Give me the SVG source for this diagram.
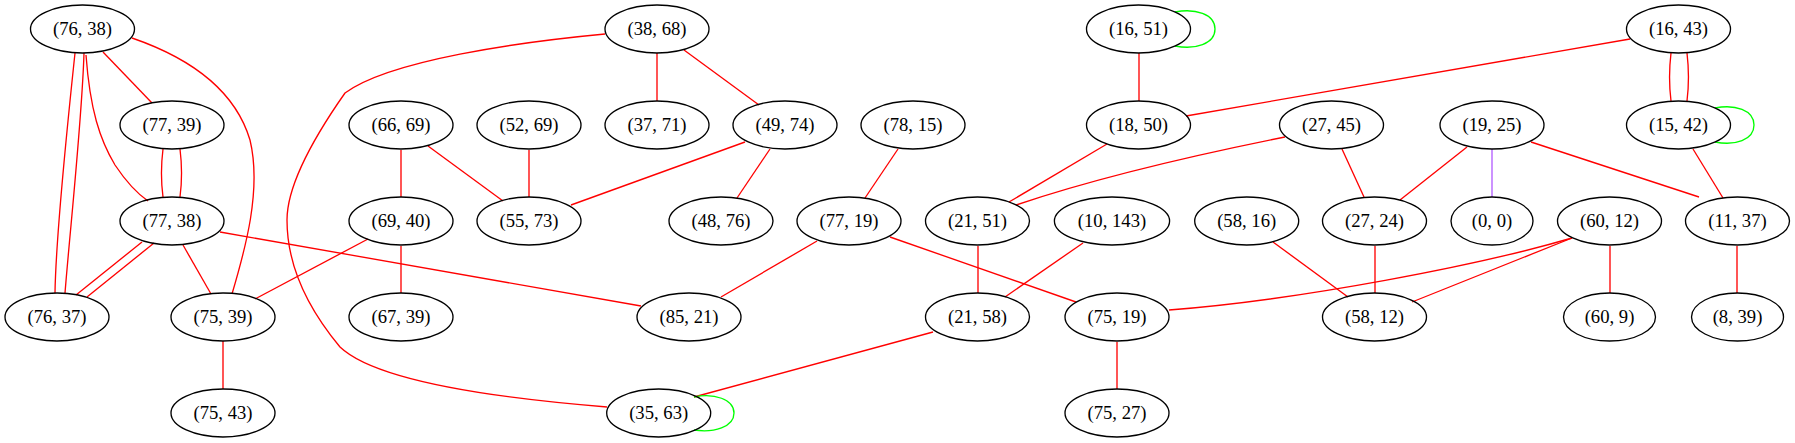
<svg xmlns="http://www.w3.org/2000/svg" width="1795" height="443" viewBox="0 0 1795 443">
<style>
.n ellipse{fill:none;stroke:#000;stroke-width:1.33}
.n text{font-family:"Liberation Serif","Times New Roman",serif;font-size:18.67px;text-anchor:middle;fill:#000}
#edges path{fill:none;stroke-width:1.33}
.r{stroke:#ff0000}
.g{stroke:#00ff00}
.p{stroke:#b35cff}
</style>
<rect width="1795" height="443" fill="#fff"/>
<g id="edges">
<path class="r" d="M75,53 C68,120 56,230 55,293"/>
<path class="r" d="M84,53 C82,120 70,230 65,293"/>
<path class="r" d="M86,55 C90,110 100,140 115,165 C125,180 135,192 148,201"/>
<path class="r" d="M103,52 L152,103"/>
<path class="r" d="M132,38 C190,58 235,90 250,140 C262,190 245,250 232,294"/>
<path class="r" d="M163,149 C161,165 161,182 163,197"/>
<path class="r" d="M180,149 C182,165 182,182 180,197"/>
<path class="r" d="M142,242 L76,295"/>
<path class="r" d="M154,243 L87,297"/>
<path class="r" d="M183,245 L211,294"/>
<path class="r" d="M220,232 L641,306"/>
<path class="r" d="M368,239 L255,299"/>
<path class="r" d="M223,341 L223,389"/>
<path class="r" d="M401,150 L401,197"/>
<path class="r" d="M428,146 L503,201"/>
<path class="r" d="M529,150 L529,197"/>
<path class="r" d="M745,142 L571,205"/>
<path class="r" d="M401,246 L401,293"/>
<path class="r" d="M605,34 C520,42 390,60 345,93 C305,150 287,190 287,220 C287,262 305,305 340,347 C380,385 520,400 607,407"/>
<path class="r" d="M657,53 L657,101"/>
<path class="r" d="M684,50 L759,105"/>
<path class="r" d="M770,149 L737,198"/>
<path class="r" d="M898,149 L865,198"/>
<path class="r" d="M817,241 L721,297"/>
<path class="r" d="M890,237 L1076,302"/>
<path class="r" d="M1107,144 L1009,202"/>
<path class="r" d="M1285,137 C1195,155 1090,180 1016,205"/>
<path class="r" d="M978,246 L978,293"/>
<path class="r" d="M1083,243 L1005,297"/>
<path class="r" d="M933,332 L694,397"/>
<path class="g" d="M694,397 C714,393 734,399 734,413 C734,427 714,433 694,430"/>
<path class="r" d="M1139,53 L1139,101"/>
<path class="g" d="M1175,12 C1195,8 1215,14 1215,29 C1215,44 1195,50 1175,46"/>
<path class="r" d="M1630,39 L1186,116"/>
<path class="r" d="M1671,53 C1669,70 1669,85 1671,101"/>
<path class="r" d="M1687,53 C1689,70 1689,85 1687,101"/>
<path class="g" d="M1715,108 C1735,104 1754,110 1754,125 C1754,140 1735,146 1715,142"/>
<path class="r" d="M1117,342 L1117,389"/>
<path class="r" d="M1572,238 C1480,265 1300,300 1169,310"/>
<path class="r" d="M1572,238 L1412,302"/>
<path class="r" d="M1610,246 L1610,293"/>
<path class="r" d="M1273,242 L1348,297"/>
<path class="r" d="M1375,246 L1375,293"/>
<path class="r" d="M1342,149 L1364,197"/>
<path class="r" d="M1467,147 L1400,200"/>
<path class="p" d="M1492,149 L1492,197"/>
<path class="r" d="M1531,142 L1699,197"/>
<path class="r" d="M1693,149 L1723,198"/>
<path class="r" d="M1737,246 L1737,293"/>
</g>
<g id="n_76_38" class="n"><ellipse cx="82.5" cy="29" rx="52" ry="24"/><text x="82.5" y="35">(76, 38)</text></g>
<g id="n_77_39" class="n"><ellipse cx="172" cy="125" rx="52" ry="24"/><text x="172" y="131">(77, 39)</text></g>
<g id="n_77_38" class="n"><ellipse cx="172" cy="221" rx="52" ry="24"/><text x="172" y="227">(77, 38)</text></g>
<g id="n_76_37" class="n"><ellipse cx="57" cy="317" rx="52" ry="24"/><text x="57" y="323">(76, 37)</text></g>
<g id="n_75_39" class="n"><ellipse cx="223" cy="317" rx="52" ry="24"/><text x="223" y="323">(75, 39)</text></g>
<g id="n_75_43" class="n"><ellipse cx="223" cy="413" rx="52" ry="24"/><text x="223" y="419">(75, 43)</text></g>
<g id="n_66_69" class="n"><ellipse cx="401" cy="125" rx="52" ry="24"/><text x="401" y="131">(66, 69)</text></g>
<g id="n_69_40" class="n"><ellipse cx="401" cy="221" rx="52" ry="24"/><text x="401" y="227">(69, 40)</text></g>
<g id="n_67_39" class="n"><ellipse cx="401" cy="317" rx="52" ry="24"/><text x="401" y="323">(67, 39)</text></g>
<g id="n_52_69" class="n"><ellipse cx="529" cy="125" rx="52" ry="24"/><text x="529" y="131">(52, 69)</text></g>
<g id="n_55_73" class="n"><ellipse cx="529" cy="221" rx="52" ry="24"/><text x="529" y="227">(55, 73)</text></g>
<g id="n_38_68" class="n"><ellipse cx="657" cy="29" rx="52" ry="24"/><text x="657" y="35">(38, 68)</text></g>
<g id="n_37_71" class="n"><ellipse cx="657" cy="125" rx="52" ry="24"/><text x="657" y="131">(37, 71)</text></g>
<g id="n_49_74" class="n"><ellipse cx="785" cy="125" rx="52" ry="24"/><text x="785" y="131">(49, 74)</text></g>
<g id="n_78_15" class="n"><ellipse cx="913" cy="125" rx="52" ry="24"/><text x="913" y="131">(78, 15)</text></g>
<g id="n_48_76" class="n"><ellipse cx="721" cy="221" rx="52" ry="24"/><text x="721" y="227">(48, 76)</text></g>
<g id="n_77_19" class="n"><ellipse cx="849" cy="221" rx="52" ry="24"/><text x="849" y="227">(77, 19)</text></g>
<g id="n_21_51" class="n"><ellipse cx="977.5" cy="221" rx="52" ry="24"/><text x="977.5" y="227">(21, 51)</text></g>
<g id="n_10_143" class="n"><ellipse cx="1112" cy="221" rx="57.6" ry="24"/><text x="1112" y="227">(10, 143)</text></g>
<g id="n_16_51" class="n"><ellipse cx="1138.5" cy="29" rx="52" ry="24"/><text x="1138.5" y="35">(16, 51)</text></g>
<g id="n_18_50" class="n"><ellipse cx="1138.5" cy="125" rx="52" ry="24"/><text x="1138.5" y="131">(18, 50)</text></g>
<g id="n_85_21" class="n"><ellipse cx="689" cy="317" rx="52" ry="24"/><text x="689" y="323">(85, 21)</text></g>
<g id="n_21_58" class="n"><ellipse cx="977.5" cy="317" rx="52" ry="24"/><text x="977.5" y="323">(21, 58)</text></g>
<g id="n_75_19" class="n"><ellipse cx="1117" cy="317" rx="52" ry="24"/><text x="1117" y="323">(75, 19)</text></g>
<g id="n_35_63" class="n"><ellipse cx="658.7" cy="413" rx="52" ry="24"/><text x="658.7" y="419">(35, 63)</text></g>
<g id="n_75_27" class="n"><ellipse cx="1117" cy="413" rx="52" ry="24"/><text x="1117" y="419">(75, 27)</text></g>
<g id="n_16_43" class="n"><ellipse cx="1678.5" cy="29" rx="52" ry="24"/><text x="1678.5" y="35">(16, 43)</text></g>
<g id="n_15_42" class="n"><ellipse cx="1678.5" cy="125" rx="52" ry="24"/><text x="1678.5" y="131">(15, 42)</text></g>
<g id="n_27_45" class="n"><ellipse cx="1331.5" cy="125" rx="52" ry="24"/><text x="1331.5" y="131">(27, 45)</text></g>
<g id="n_19_25" class="n"><ellipse cx="1492" cy="125" rx="52" ry="24"/><text x="1492" y="131">(19, 25)</text></g>
<g id="n_58_16" class="n"><ellipse cx="1246.7" cy="221" rx="52" ry="24"/><text x="1246.7" y="227">(58, 16)</text></g>
<g id="n_27_24" class="n"><ellipse cx="1374.5" cy="221" rx="52" ry="24"/><text x="1374.5" y="227">(27, 24)</text></g>
<g id="n_0_0" class="n"><ellipse cx="1492" cy="221" rx="41" ry="24"/><text x="1492" y="227">(0, 0)</text></g>
<g id="n_60_12" class="n"><ellipse cx="1609.5" cy="221" rx="52" ry="24"/><text x="1609.5" y="227">(60, 12)</text></g>
<g id="n_11_37" class="n"><ellipse cx="1737.5" cy="221" rx="52" ry="24"/><text x="1737.5" y="227">(11, 37)</text></g>
<g id="n_58_12" class="n"><ellipse cx="1374.5" cy="317" rx="52" ry="24"/><text x="1374.5" y="323">(58, 12)</text></g>
<g id="n_60_9" class="n"><ellipse cx="1609.5" cy="317" rx="46" ry="24"/><text x="1609.5" y="323">(60, 9)</text></g>
<g id="n_8_39" class="n"><ellipse cx="1737.5" cy="317" rx="46" ry="24"/><text x="1737.5" y="323">(8, 39)</text></g>
</svg>
